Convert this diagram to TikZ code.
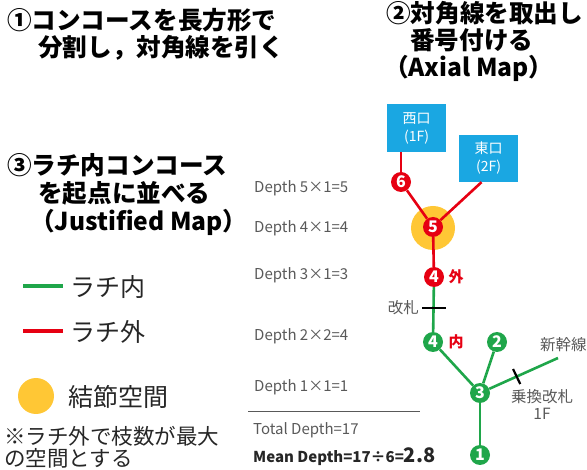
\documentclass[tikz,border=0pt]{standalone}
\usepackage{fontspec}
\setmainfont{Noto Sans CJK JP}
\usetikzlibrary{calc}
\definecolor{rc}{HTML}{E60012}
\definecolor{gc}{HTML}{1FA64A}
\definecolor{bc}{HTML}{1AA7E2}
\definecolor{yc}{HTML}{FFC735}
\definecolor{tc}{HTML}{595959}
\tikzset{
  title/.style={anchor=west, inner sep=0, font=\fontsize{24.6}{26}\selectfont\bfseries, text=black},
  legend/.style={anchor=west, inner sep=0, font=\fontsize{25}{26}\selectfont, text=black!85},
  note/.style={anchor=west, inner sep=0, font=\fontsize{21.5}{23}\selectfont, text=black!85},
  depth/.style={anchor=west, inner sep=0, font=\fontsize{15}{17}\selectfont, text=tc},
  lab/.style={inner sep=0, font=\fontsize{15.5}{17}\selectfont, text=tc},
  rnode/.style={circle, fill=rc, minimum size=20pt, inner sep=0, text=white, font=\fontsize{16}{16}\selectfont\bfseries},
  gnode/.style={circle, fill=gc, minimum size=20pt, inner sep=0, text=white, font=\fontsize{16}{16}\selectfont\bfseries},
  exit/.style={fill=bc, text=white, align=center, inner sep=0, font=\fontsize{14}{18}\selectfont},
  redl/.style={draw=rc, line width=2.6pt},
  grnl/.style={draw=gc, line width=2.6pt},
  tick/.style={draw=black, line width=2.2pt},
}
\begin{document}
\begin{tikzpicture}[x=1pt,y=-1pt]
\useasboundingbox (0,0) rectangle (587,470);
% titles
\node[title] (t1a) at (7,20) {①コンコースを長方形で};
\node[title] (t1b) at (38,48) {分割し，対角線を引く};
\node[title] (t2a) at (386,13) {②対角線を取出し};
\node[title] (t2b) at (410,40) {番号付ける};
\node[title] (t2c) at (384,68) {（Axial Map）};
\node[title] (t3a) at (7,165) {③ラチ内コンコース};
\node[title] (t3b) at (38,193) {を起点に並べる};
\node[title] (t3c) at (30,222) {（Justified Map）};
% legend
\coordinate (lg1) at (23,286);
\coordinate (lg2) at (23,331);
\draw[grnl, line width=4pt] (lg1) -- ++(40,0);
\draw[redl, line width=4pt] (lg2) -- ++(40,0);
\node[legend] (lt1) at (70,287) {ラチ内};
\node[legend] (lt2) at (70,332) {ラチ外};
\node[circle, fill=yc, minimum size=36pt, inner sep=0] (lgc) at (36,396) {};
\node[legend] (lt3) at (68,397) {結節空間};
\node[note] (nt1) at (4,436) {※ラチ外で枝数が最大};
\node[note] (nt2) at (4,458) {の空間とする};
% depth table
\node[depth] (d5) at (254,188) {Depth 5×1=5};
\node[depth] (d4) at (254,228) {Depth 4×1=4};
\node[depth] (d3) at (254,275) {Depth 3×1=3};
\node[depth] (d2) at (254,336) {Depth 2×2=4};
\node[depth] (d1) at (254,387) {Depth 1×1=1};
\coordinate (hl) at (248,411);
\draw[tc, line width=0.8pt] (hl) -- ++(172,0);
\node[depth] (td) at (253,430) {Total Depth=17};
\node[depth, text=black!85] (md) at (253,457) {\bfseries Mean Depth=17÷6={\fontsize{20}{20}\selectfont 2.8}};
% hub
\node[circle, fill=yc, minimum size=44pt, inner sep=0] (hub) at (433,228) {};
% exits
\node[exit, minimum width=59pt, minimum height=48pt] (west) at (416.5,128) {西口\\(1F)};
\node[exit, minimum width=59pt, minimum height=47pt] (east) at (488.5,158.5) {東口\\(2F)};
% nodes
\node[rnode] (n6) at (401,182) {6};
\node[rnode] (n5) at (433,227) {5};
\node[rnode] (n4r) at (434,277) {4};
\node[gnode] (n4g) at (433,342) {4};
\node[gnode] (n2) at (497,342) {2};
\node[gnode] (n3) at (480,393) {3};
\node[gnode] (n1) at (480,455) {1};
\coordinate (shin) at (558,358);
% red lines
\draw[redl] (n6) -- (n6 |- west.south);
\draw[redl] (n6) -- (n5);
\draw[redl] (n5) -- ($(east.south)+(-7,0)$);
\draw[redl] (n5) -- (n4r);
% green lines
\draw[grnl] (n4r) -- (n4g);
\draw[grnl] (n4g) -- (n3);
\draw[grnl] (n2) -- (n3);
\draw[grnl] (n3) -- (shin);
\draw[grnl] (n3) -- (n1);
% gates
\coordinate (gate) at (434,308);
\draw[tick] ([xshift=-12pt]gate) -- ([xshift=12pt]gate);
\node[lab, anchor=east] (gl) at (419,308) {改札};
\coordinate (tk) at ($(n3)!0.47!(shin)$);
\draw[tick] ($(tk)+(-3.6,-7.5)$) -- ($(tk)+(3.6,7.5)$);
\node[lab, anchor=west] (shl) at (540,345) {新幹線};
\node[lab, align=center] (nr) at (542,404) {乗換改札\\1F};
% in/out labels
\node[inner sep=0, text=rc, font=\fontsize{15}{15}\selectfont\bfseries] (out) at (456,277) {外};
\node[inner sep=0, text=rc, font=\fontsize{15}{15}\selectfont\bfseries] (in) at (456,342) {内};
\end{tikzpicture}
\end{document}
